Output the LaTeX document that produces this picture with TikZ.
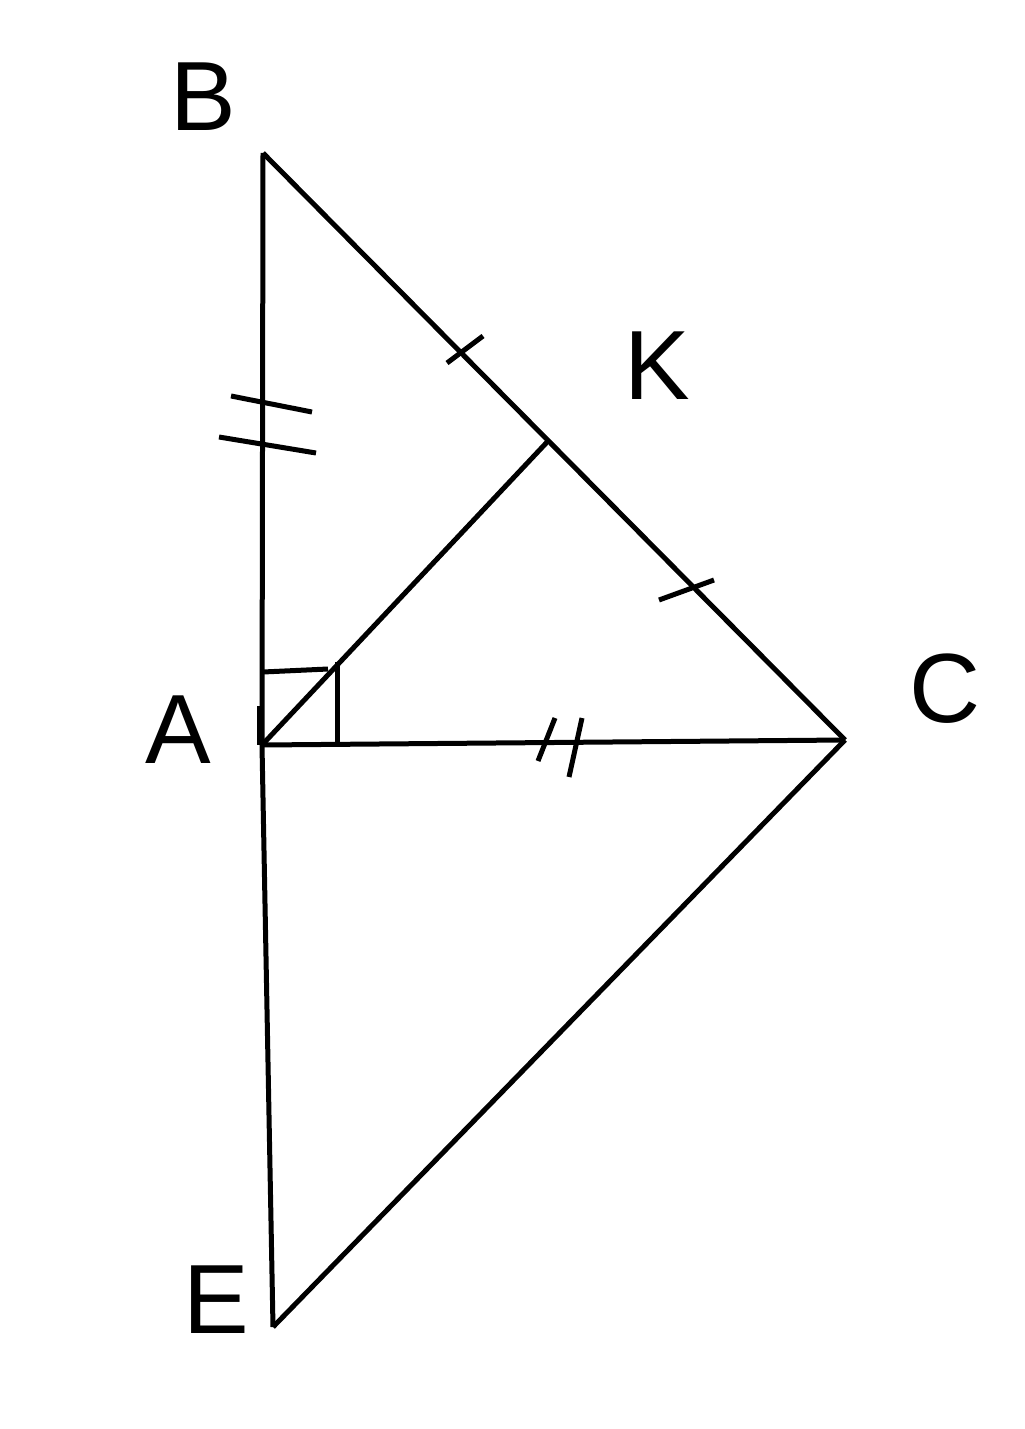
\documentclass[tikz,border=0pt]{standalone}
\usepackage{fontspec}
\setmainfont{Liberation Sans}
\begin{document}
\begin{tikzpicture}[
    x=0.02cm, y=-0.02cm,
    edge/.style={line width=0.1cm},
    tick/.style={line width=0.1cm},
    vertex/.style={inner sep=0pt, font=\fontsize{56}{60}\selectfont}
    ]
    \useasboundingbox (0,0) rectangle (1024,1429);
    % points
    \coordinate (B) at (263,153);
    \coordinate (A) at (262,745);
    \coordinate (C) at (845,740);
    \coordinate (E) at (273,1327);
    \coordinate (K) at (549,440);
    % labels
    \node[vertex] (lB) at (203,97) {B};
    \node[vertex] (lK) at (657,366) {K};
    \node[vertex] (lA) at (178,730) {A};
    \node[vertex] (lC) at (945,689) {C};
    \node[vertex] (lE) at (216,1300) {E};
    % sides
    \draw[edge] (B) -- (A);
    \draw[edge] (A) -- (E);
    \draw[edge] (A) -- (C);
    \draw[edge] (B) -- (C);
    \draw[edge] (A) -- (K);
    \draw[edge] (C) -- (E);
    \draw[edge] (259,706) -- (259,745);
    % right angle
    \draw[tick] (263,672) -- (328,669);
    \draw[tick] (337,662) -- (337,743);
    % equal marks
    \draw[tick] (447,363) -- (483,336);
    \draw[tick] (659,600) -- (714,580);
    \draw[tick] (231,396) -- (312,412);
    \draw[tick] (219,437) -- (316,453);
    \draw[tick] (555,718) -- (538,761);
    \draw[tick] (582,718) -- (569,777);
\end{tikzpicture}
\end{document}
